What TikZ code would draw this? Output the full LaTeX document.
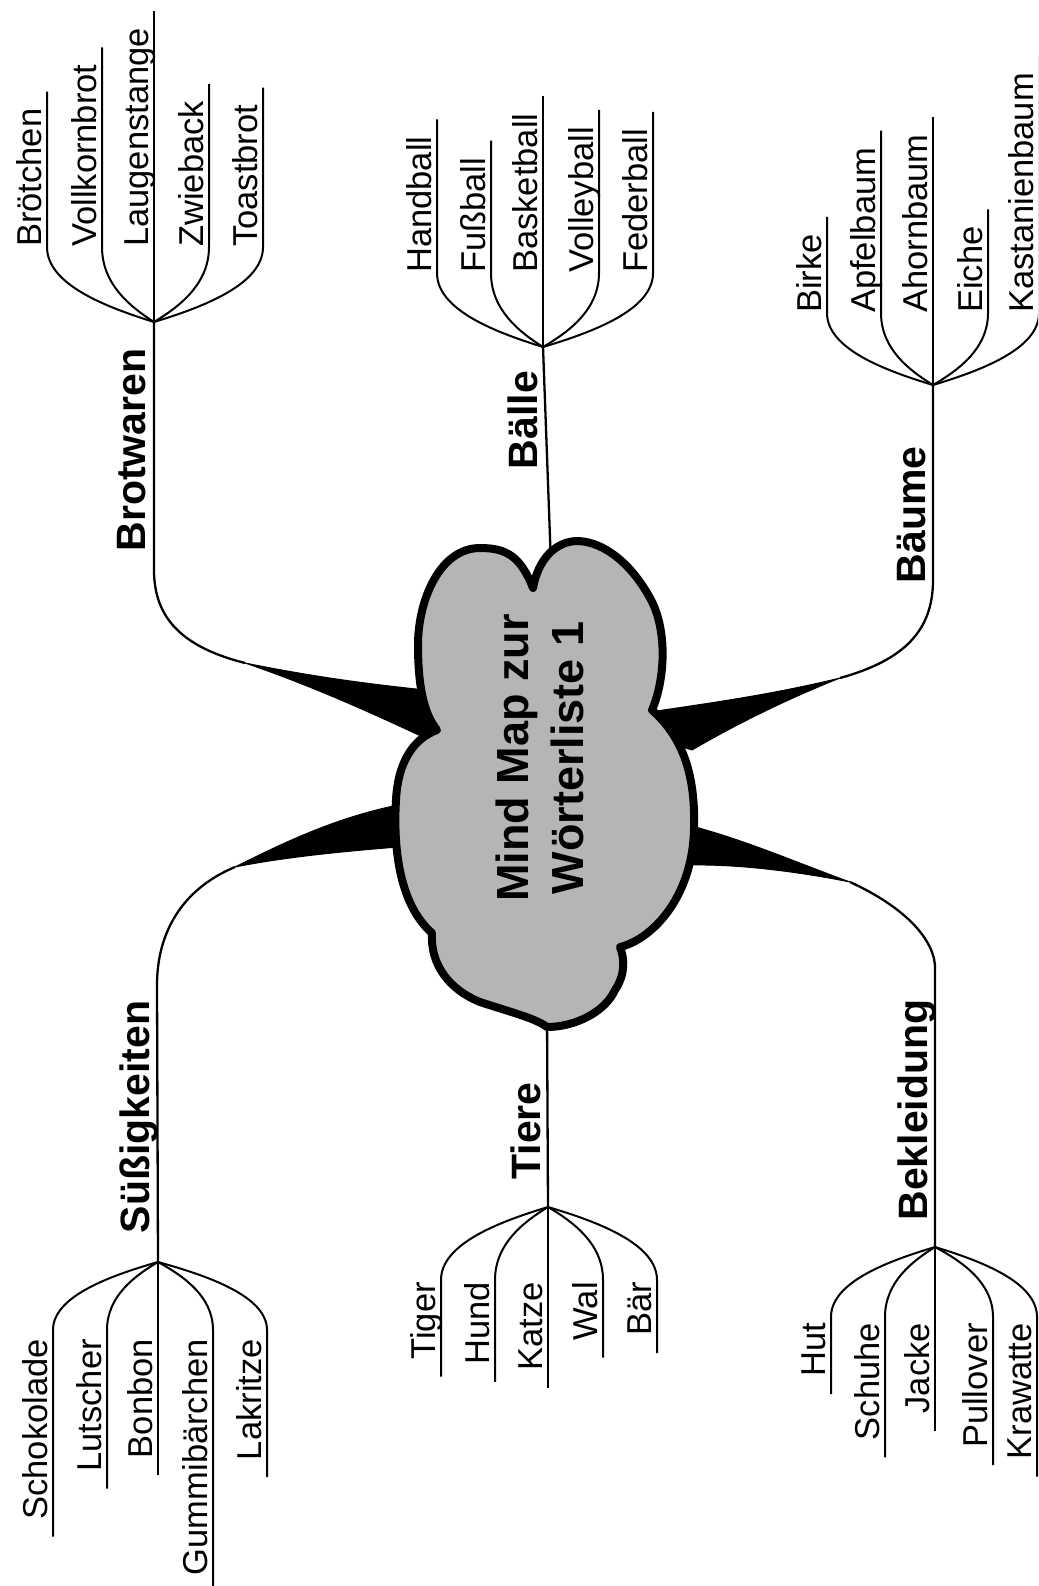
\documentclass[tikz,border=0pt]{standalone}
\usepackage{fontspec}
\setmainfont{Liberation Sans}
\usetikzlibrary{calc}

% leaves that grow upwards from a hub: hub, hub x, hub y, bend y, list name/x/text
\newcommand\leavesup[5]{%
  \foreach \nm/\lx/\txt in {#5} {
    \coordinate (\nm-b) at (\lx,#4);
    \node[leaf, anchor=base west] (\nm) at ($(\nm-b)+(-6,0)$) {\txt};
    \draw[twig] (#1) .. controls ({#2+0.45*(\lx-#2)},{#3+0.2*(#4-#3)}) and (\lx,{#3+0.5*(#4-#3)}) .. (\nm-b)
      -- ($(\nm.base east)+(6,-17)$);
  }}
% leaves that hang downwards from a hub: hub, hub x, hub y, bend y, text top y, list
\newcommand\leavesdown[6]{%
  \foreach \nm/\lx/\txt in {#6} {
    \coordinate (\nm-b) at (\lx,#4);
    \node[leaf, anchor=base east] (\nm) at ($(\lx,#5)+(-6,0)$) {\txt};
    \draw[twig] (#1) .. controls ({#2+0.45*(\lx-#2)},{#3+0.2*(#4-#3)}) and (\lx,{#3+0.5*(#4-#3)}) .. (\nm-b)
      -- ($(\nm.base west)+(6,17)$);
  }}

\begin{document}
\begin{tikzpicture}[x=1pt,y=-1pt,
  twig/.style={line width=2pt},
  stem/.style={line width=2.3pt},
  wedge/.style={fill=black, draw=black, line width=1pt, line join=round},
  leaf/.style={rotate=90, inner sep=0pt, font=\fontsize{34.5}{40}\selectfont},
  topic/.style={rotate=90, inner sep=0pt, font=\fontsize{41}{48}\selectfont\bfseries},
  cloudshape/.style={fill=gray!58, draw=black, line width=8pt, line join=round}]

\useasboundingbox (0,0) rectangle (1038,1586);
\clip (0,0) rectangle (1038,1586);
\fill[white] (0,0) rectangle (1038,1586);

% hubs of the six topics
\coordinate (hBrot)  at (154,322);
\coordinate (hBall)  at (543,347);
\coordinate (hBaum)  at (933,385);
\coordinate (hSuess) at (158,1262);
\coordinate (hTier)  at (548,1207);
\coordinate (hKleid) at (935,1247);

% start points of the tapering wedges
\coordinate (sBrot)  at (245,663);
\coordinate (sSuess) at (235,867);
\coordinate (sBaum)  at (840,678);
\coordinate (sKleid) at (850,882);
\coordinate (cTop)   at (551,565);
\coordinate (cBot)   at (547,1015);

% stems from the hubs towards the centre
\draw[stem] (hBrot) -- (154,570) .. controls (154,618) and (182,647) .. (sBrot);
\filldraw[wedge] (sBrot) .. controls (320,678) and (370,684) .. (425,690) -- (445,700) -- (440,745)
  .. controls (370,712) and (312,686) .. (sBrot) -- cycle;

\draw[stem] (hSuess) -- (157,985) .. controls (157,935) and (180,890) .. (sSuess);
\filldraw[wedge] (sSuess) .. controls (285,842) and (335,818) .. (398,805) -- (410,825) -- (398,847)
  .. controls (335,852) and (280,858) .. (sSuess) -- cycle;

\draw[stem] (hBaum) -- (933,580) .. controls (933,630) and (905,660) .. (sBaum);
\filldraw[wedge] (sBaum) .. controls (770,695) and (710,703) .. (650,712) -- (660,740) -- (692,750)
  .. controls (740,722) and (790,698) .. (sBaum) -- cycle;

\draw[stem] (hKleid) -- (935,965) .. controls (932,935) and (900,905) .. (sKleid);
\filldraw[wedge] (sKleid) .. controls (790,860) and (745,840) .. (688,825) -- (675,845) -- (688,865)
  .. controls (740,864) and (800,872) .. (sKleid) -- cycle;

\draw[stem] (hBall) -- (cTop);
\draw[stem] (cBot) -- (hTier);

% central cloud
\draw[cloudshape] (533,588) .. controls (520,555) and (505,548) .. (480,548)
  .. controls (440,548) and (418,600) .. (418,645)
  .. controls (418,690) and (425,715) .. (437,730)
  .. controls (415,738) and (398,760) .. (396,800)
  .. controls (393,850) and (400,905) .. (432,933)
  .. controls (430,965) and (450,990) .. (480,1002)
  .. controls (510,1012) and (535,1018) .. (547,1027)
  .. controls (575,1027) and (605,1012) .. (615,990)
  .. controls (625,975) and (625,960) .. (620,947)
  .. controls (650,940) and (692,900) .. (694,830)
  .. controls (696,770) and (680,735) .. (652,710)
  .. controls (665,680) and (668,630) .. (650,598)
  .. controls (632,565) and (605,542) .. (578,541)
  .. controls (555,541) and (538,560) .. (533,588) -- cycle;

\node[rotate=90, align=center, inner sep=0pt, font=\fontsize{45}{55}\selectfont\bfseries] (title)
  at (540,758) {Mind Map zur\\Wörterliste 1};

% topic labels
\node[topic, anchor=base] (tBrot)  at (145,450)  {Brotwaren};
\node[topic, anchor=base] (tBall)  at (537,420)  {Bälle};
\node[topic, anchor=base] (tBaum)  at (925,515)  {Bäume};
\node[topic, anchor=base] (tSuess) at (149,1117) {Süßigkeiten};
\node[topic, anchor=base] (tTier)  at (540,1131) {Tiere};
\node[topic, anchor=base] (tKleid) at (927,1110) {Bekleidung};

% leaves
\leavesup{hBrot}{154}{322}{247}{brA/47/Brötchen, brB/102/Vollkornbrot, brC/154/Laugenstange, brD/209/Zwieback, brE/263/Toastbrot}
\leavesup{hBall}{543}{347}{273}{baA/437/Handball, baB/491/Fußball, baC/543/Basketball, baD/599/Volleyball, baE/653/Federball}
\leavesup{hBaum}{933}{385}{313}{bmA/827/Birke, bmB/881/Apfelbaum, bmC/933/Ahornbaum, bmD/988/Eiche, bmE/1039/Kastanienbaum}
\leavesdown{hSuess}{158}{1262}{1330}{1339}{suA/53/Schokolade, suB/107/Lutscher, suC/158/Bonbon, suD/213/Gummibärchen, suE/267/Lakritze}
\leavesdown{hTier}{548}{1207}{1280}{1282}{tiA/441/Tiger, tiB/495/Hund, tiC/548/Katze, tiD/603/Wal, tiE/657/Bär}
\leavesdown{hKleid}{935}{1247}{1317}{1323}{klA/831/Hut, klB/885/Schuhe, klC/935/Jacke, klD/993/Pullover, klE/1037/Krawatte}

\end{tikzpicture}
\end{document}
